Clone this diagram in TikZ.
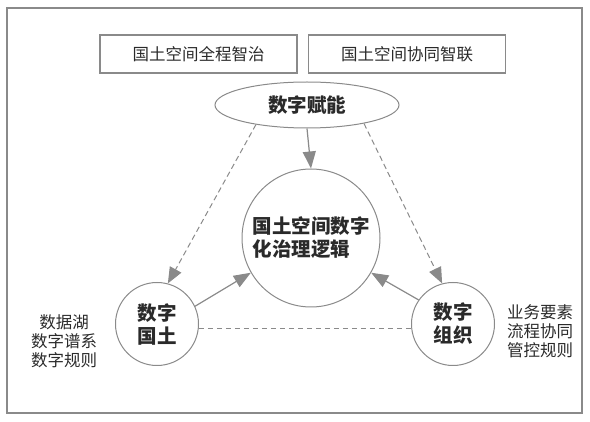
\documentclass[tikz,border=0pt]{standalone}
\usepackage{fontspec}
\setmainfont{Noto Sans CJK SC}
\usepackage{tikz}
\usetikzlibrary{arrows.meta,shapes.geometric}
\definecolor{linegray}{HTML}{8A8A8A}
\definecolor{textdark}{HTML}{2A2A2A}

\tikzset{
  topbox/.style={draw=linegray, line width=1.1pt, minimum width=197pt, minimum height=38pt, inner sep=0pt, text=textdark, font=\fontsize{16.5}{19}\selectfont},
  hub/.style={circle, draw=linegray, line width=1pt, inner sep=0pt, text=textdark, font=\fontsize{19.5}{23}\selectfont\bfseries},
  sidenote/.style={align=center, text=textdark, font=\fontsize{16.5}{19}\selectfont},
  solidarrow/.style={draw=linegray, line width=1.2pt, -{Triangle[length=17pt,width=13pt]}},
  dasharrow/.style={draw=linegray, line width=1pt, dash pattern=on 5.5pt off 3.5pt, -{Triangle[length=16pt,width=13pt]}}
}

\begin{document}
\begin{tikzpicture}[x=1pt, y=-1pt]
  \useasboundingbox (0,0) rectangle (590,422);
  \draw[linegray, line width=1.2pt] (7,8) rectangle (582,413);

  % top boxes
  \node[topbox] (zhizhi) at (198.5,54) {国土空间全程智治};
  \node[topbox] (zhilian) at (407,54) {国土空间协同智联};

  % ellipse and circles
  \node[ellipse, draw=linegray, line width=1pt, minimum width=184pt, minimum height=46pt, inner sep=0pt, text=textdark, font=\fontsize{19.5}{23}\selectfont\bfseries] (funeng) at (307,105) {数字赋能};
  \node[hub, align=left, minimum size=138pt] (luoji) at (311,238) {国土空间数字\\化治理逻辑};
  \node[hub, align=center, minimum size=83pt] (guotu) at (157,324) {数字\\国土};
  \node[hub, align=center, minimum size=83pt] (zuzhi) at (453,324) {数字\\组织};

  % side notes
  \node[sidenote] (guotunote) at (64,341) {数据湖\\数字谱系\\数字规则};
  \node[sidenote] (zuzhinote) at (540,331) {业务要素\\流程协同\\管控规则};

  % connectors
  \draw[solidarrow] (funeng.south) -- (luoji.north);
  \draw[dasharrow] (funeng.201) -- (guotu.75);
  \draw[dasharrow] (funeng.342) -- (zuzhi.105);
  \draw[solidarrow] (guotu.25) -- (luoji.210);
  \draw[solidarrow] (zuzhi.145) -- (luoji.330);
  \draw[linegray, line width=1pt, dash pattern=on 5.5pt off 3.5pt] (guotu.-6) -- (zuzhi.186);
\end{tikzpicture}
\end{document}
